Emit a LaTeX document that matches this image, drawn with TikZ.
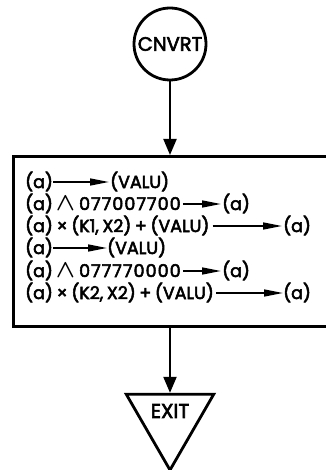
\documentclass[tikz,border=0pt]{standalone}
\usepackage{fontspec}
\setmainfont{Poppins}[FakeBold=3]
\newcommand{\dg}[1]{{\addfontfeature{LetterSpace=6}#1}}
\newcommand{\andop}{\hspace{3pt}\scalebox{1.45}{\boldmath$\wedge$}\hspace{4pt}}
\newcommand{\gapsp}{\hspace{3.6pt}}
\usetikzlibrary{arrows.meta,shapes.geometric}
\begin{document}
\begin{tikzpicture}[x=1pt,y=-1pt,
  txt/.style={anchor=base west, inner sep=0pt, text height=13pt, text depth=1pt,
    font=\fontsize{17.5}{19}\selectfont},
  tarrow/.style={line width=1.6pt, -{Triangle[length=19pt,width=7pt]}},
  flow/.style={line width=2pt, -{Triangle[length=16pt,width=13pt]}},
  heavy/.style={draw, line width=2.8pt}]
\useasboundingbox (0,0) rectangle (325,470);
\node[heavy, circle, minimum size=72pt, inner sep=0pt,
  font=\fontsize{19.5}{22}\selectfont] (start) at (170,44) {CNVRT};
\node[heavy, rectangle, minimum width=340pt, minimum height=170pt, inner sep=0pt,
  anchor=north west] (box) at (12,155) {};
\node[heavy, regular polygon, regular polygon sides=3, shape border rotate=180,
  minimum size=101pt, inner sep=0pt] (exit) at (170,419.5) {};
\node[font=\fontsize{20}{22}\selectfont, inner sep=0pt] (exitlbl) at (170,411) {EXIT};
\draw[flow] (start.south) -- (start.south |- box.north);
\draw[flow] (start.south |- box.south) -- (exit.north);
% line 1
\node[txt] (l1a) at (25,188) {(a)};
\node[txt] (l1b) at (110,188) {(VALU)};
\draw[tarrow] (l1a.east) -- ([xshift=-1pt]l1b.west);
% line 2
\node[txt] (l2a) at (25,210) {(a)\andop\dg{077007700}};
\node[txt] (l2b) at (222,210) {(a)};
\draw[tarrow] ([xshift=2pt]l2a.east) -- ([xshift=-1pt]l2b.west);
% line 3
\node[txt] (l3a) at (25,232) {(a)\gapsp×\gapsp(K1,\gapsp X2)\gapsp+\gapsp(VALU)};
\node[txt] (l3b) at (283,232) {(a)};
\draw[tarrow] ([xshift=3pt]l3a.east) -- ([xshift=-1pt]l3b.west);
% line 4
\node[txt] (l4a) at (25,254) {(a)};
\node[txt] (l4b) at (107,254) {(VALU)};
\draw[tarrow] (l4a.east) -- (l4b.west);
% line 5
\node[txt] (l5a) at (25,277) {(a)\andop\dg{077770000}};
\node[txt] (l5b) at (222,277) {(a)};
\draw[tarrow] ([xshift=2pt]l5a.east) -- ([xshift=-1pt]l5b.west);
% line 6
\node[txt] (l6a) at (25,299) {(a)\gapsp×\gapsp(K2,\gapsp X2)\gapsp+\gapsp(VALU)};
\node[txt] (l6b) at (283,299) {(a)};
\draw[tarrow] ([xshift=2pt]l6a.east) -- (l6b.west);
\end{tikzpicture}
\end{document}
